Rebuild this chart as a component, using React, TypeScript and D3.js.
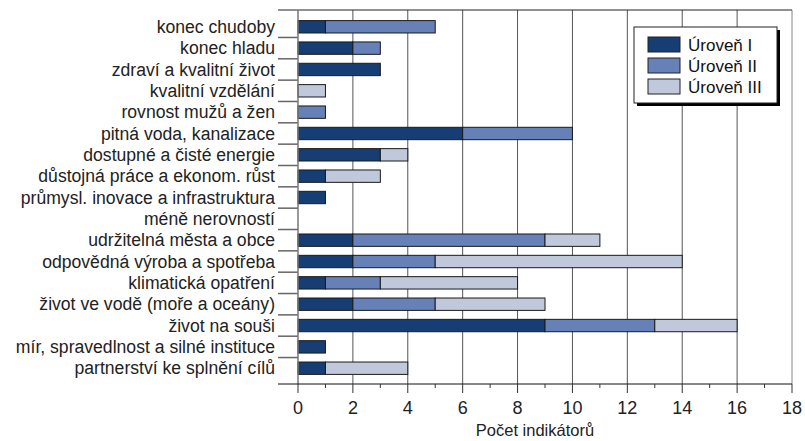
import React from 'react'
import * as d3 from 'd3'

// SDG goals and number of indicators per level
const categories = [
  'konec chudoby',
  'konec hladu',
  'zdraví a kvalitní život',
  'kvalitní vzdělání',
  'rovnost mužů a žen',
  'pitná voda, kanalizace',
  'dostupné a čisté energie',
  'důstojná práce a ekonom. růst',
  'průmysl. inovace a infrastruktura',
  'méně nerovností',
  'udržitelná města a obce',
  'odpovědná výroba a spotřeba',
  'klimatická opatření',
  'život ve vodě (moře a oceány)',
  'život na souši',
  'mír, spravedlnost a silné instituce',
  'partnerství ke splnění cílů',
]
const level1 = [1, 2, 3, 0, 0, 6, 3, 1, 1, 0, 2, 2, 1, 2, 9, 1, 1]
const level2 = [4, 1, 0, 0, 1, 4, 0, 0, 0, 0, 7, 3, 2, 3, 4, 0, 0]
const level3 = [0, 0, 0, 1, 0, 0, 1, 2, 0, 0, 2, 9, 5, 4, 3, 0, 3]
const seriesNames = ['Úroveň I', 'Úroveň II', 'Úroveň III']
const colors = ['#163e74', '#6680b8', '#c0c9dc']
const xTicks = [0, 2, 4, 6, 8, 10, 12, 14, 16, 18]
const xMinor = [1, 3, 5, 7, 9, 11, 13, 15, 17]
const axisTitle = 'Počet indikátorů'

const width = 805
const height = 441
const left = 298
const right = 792
const top = 10
const bottom = 384

export default function App() {
  const rows = categories.map((c, i) => ({ cat: c, l1: level1[i], l2: level2[i], l3: level3[i] }))
  const stack = d3.stack<any>().keys(['l1', 'l2', 'l3'])(rows)

  const x = d3.scaleLinear().domain([0, 18]).range([left, right])
  const y = d3.scaleBand().domain(categories).range([top + 1, bottom]).paddingInner(0.42).paddingOuter(0.45)
  const gap = (y.step() - y.bandwidth()) / 2

  const labelFont = '"Liberation Sans", Arial, sans-serif'

  return (
    <svg width={width} height={height} style={{ position: 'absolute', left: 0, top: 0, background: '#fff' }}>
      {/* grid */}
      {xTicks.slice(1).map(t => (
        <line key={'g' + t} x1={x(t)} x2={x(t)} y1={top} y2={bottom} stroke={t === 18 ? '#888' : '#555'} strokeWidth={1} />
      ))}
      {/* top border */}
      <line x1={278} x2={right} y1={top} y2={top} stroke="#222" strokeWidth={1} />
      {/* category separators */}
      {categories.slice(1).map(c => (
        <line key={'s' + c} x1={278} x2={left} y1={(y(c) as number) - gap} y2={(y(c) as number) - gap} stroke="#666" strokeWidth={1.5} />
      ))}
      {/* bars */}
      {stack.map((s, si) => (
        <g key={si}>
          {s.map((d, i) => d[1] - d[0] > 0 ? (
            <rect key={i} x={x(d[0])} y={y(categories[i])} width={x(d[1]) - x(d[0])} height={y.bandwidth()}
              fill={colors[si]} stroke="#1a1a1a" strokeWidth={1} />
          ) : null)}
        </g>
      ))}
      {/* y axis line */}
      <line x1={left} x2={left} y1={top} y2={bottom + 9} stroke="#777" strokeWidth={1.5} />
      {/* x axis */}
      <line x1={278} x2={right} y1={bottom} y2={bottom} stroke="#111" strokeWidth={1} />
      {xTicks.slice(1).map(t => (
        <line key={'t' + t} x1={x(t)} x2={x(t)} y1={bottom} y2={bottom + 9} stroke="#333" strokeWidth={1} />
      ))}
      {xMinor.map(t => (
        <line key={'m' + t} x1={x(t)} x2={x(t)} y1={bottom} y2={bottom + 4} stroke="#333" strokeWidth={1} />
      ))}
      {xTicks.map(t => (
        <text key={'l' + t} x={x(t)} y={414} textAnchor="middle" fontSize={18} fontFamily={labelFont} fill="#222">{t}</text>
      ))}
      <text x={535} y={436} textAnchor="middle" fontSize={16.5} fontFamily={labelFont} fill="#222">{axisTitle}</text>
      {/* category labels */}
      {categories.map(c => (
        <text key={'c' + c} x={275} y={(y(c) as number) + y.bandwidth() / 2} dy="0.35em" textAnchor="end" fontSize={17.6} fontFamily={labelFont} fill="#222">{c}</text>
      ))}
      {/* legend */}
      <rect x={637} y={30} width={143} height={76} fill="#000" />
      <rect x={634} y={27} width={143} height={76} fill="#fff" stroke="#222" strokeWidth={1} />
      {seriesNames.map((n, i) => (
        <g key={n} transform={`translate(648, ${37 + i * 21})`}>
          <rect width={32} height={15} fill={colors[i]} stroke="#222" strokeWidth={1} />
          <text x={40} y={8} dy="0.35em" fontSize={17} fontFamily={labelFont} fill="#111">{n}</text>
        </g>
      ))}
    </svg>
  )
}
